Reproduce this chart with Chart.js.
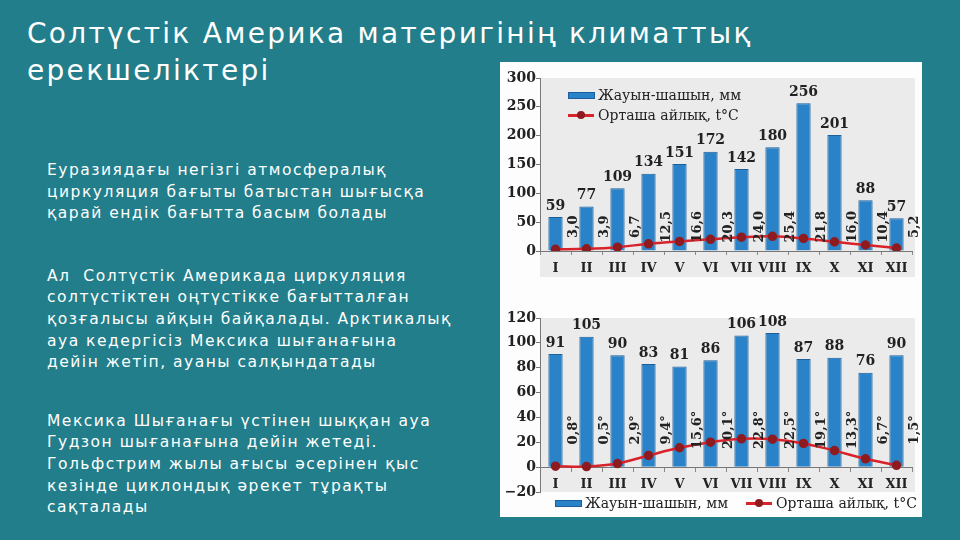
<!DOCTYPE html>
<html>
<head>
<meta charset="utf-8">
<script src="https://cdn.jsdelivr.net/npm/chart.js@4"></script>
<style>
  html, body { margin: 0; padding: 0; }
  body { width: 960px; height: 540px; background: #217e8a; position: relative; overflow: hidden; font-family: "DejaVu Sans", sans-serif; color: #fff; }
  h1 { position: absolute; left: 27px; top: 15px; margin: 0; font-weight: normal; font-size: 28px; line-height: 37px; letter-spacing: 2.3px; white-space: nowrap; }
  #text { position: absolute; left: 47px; top: 160px; width: 450px; font-size: 15.5px; line-height: 21.6px; letter-spacing: 1.5px; white-space: nowrap; }
  #text p { margin: 0; }
  #text p.p1 { margin-bottom: 41px; }
  #text p.p2 { margin-bottom: 37px; }
  #panel { position: absolute; left: 500px; top: 62px; width: 422px; height: 455px; background: #fdfdfd; }
  #panel canvas { position: absolute; left: 0; }
  .legend { position: absolute; font-family: "DejaVu Serif", serif; font-size: 14px; color: #222; white-space: nowrap; }
  .legend .row { display: flex; align-items: center; height: 20px; }
  .legend .bar { width: 27px; height: 7px; background: #2a82c8; border: 1px solid #1c5f9a; box-sizing: border-box; margin-right: 3px; }
  .legend .line { width: 26px; height: 3px; background: #d8232a; position: relative; margin-right: 4px; }
  .legend .line::after { content: ""; position: absolute; left: 9px; top: -3px; width: 8px; height: 8px; border-radius: 50%; background: #8e1b1f; }
</style>
</head>
<body>
<h1>Солтүстік Америка материгінің климаттық<br>ерекшеліктері</h1>
<div id="text">
  <p class="p1">Еуразиядағы негізгі атмосфералық<br>циркуляция бағыты батыстан шығысқа<br>қарай ендік бағытта басым болады</p>
  <p class="p2">Ал&nbsp; Солтүстік Америкада циркуляция<br>солтүстіктен оңтүстікке бағытталған<br>қозғалысы айқын байқалады. Арктикалық<br>ауа кедергісіз Мексика шығанағына<br>дейін жетіп, ауаны салқындатады</p>
  <p>Мексика Шығанағы үстінен шыққан ауа<br>Гудзон шығанағына дейін жетеді.<br>Гольфстрим жылы ағысы әсерінен қыс<br>кезінде циклондық әрекет тұрақты<br>сақталады</p>
</div>
<div id="panel">
  <canvas id="topChart" width="422" height="228" style="top:0"></canvas>
  <div class="legend" style="left:68px; top:23px;">
    <div class="row"><span class="bar"></span>Жауын-шашын, мм</div>
    <div class="row"><span class="line"></span>Орташа айлық, t°C</div>
  </div>
  <canvas id="bottomChart" width="422" height="226" style="top:228px"></canvas>
  <div class="legend" style="left:55px; top:431px;">
    <div class="row"><span class="bar"></span>Жауын-шашын, мм<span style="width:18px"></span><span class="line"></span>Орташа айлық, t°C</div>
  </div>
</div>
<script>
const months = ["I", "II", "III", "IV", "V", "VI", "VII", "VIII", "IX", "X", "XI", "XII"];

// upper station
const precipTop = [59, 77, 109, 134, 151, 172, 142, 180, 256, 201, 88, 57];
const tempTop = [3.0, 3.9, 6.7, 12.5, 16.6, 20.3, 24.0, 25.4, 21.8, 16.0, 10.4, 5.2];
const ticksTop = { min: 0, max: 300, step: 50 };

// lower station
const precipBottom = [91, 105, 90, 83, 81, 86, 106, 108, 87, 88, 76, 90];
const tempBottom = [0.8, 0.5, 2.9, 9.4, 15.6, 20.1, 22.8, 22.5, 19.1, 13.3, 6.7, 1.5];
const ticksBottom = { min: -20, max: 120, step: 20 };

const serif = '"DejaVu Serif", serif';

const plotBg = {
  id: "plotBg",
  beforeDraw(chart, args, opts) {
    const { ctx, chartArea: a } = chart;
    ctx.save();
    ctx.fillStyle = "#ebebec";
    ctx.fillRect(a.left, a.top, a.right - a.left + opts.extraRight, a.bottom - a.top + opts.extraBottom);
    ctx.restore();
  }
};

const valueLabels = {
  id: "valueLabels",
  afterDatasetsDraw(chart, args, opts) {
    const ctx = chart.ctx;
    const bars = chart.getDatasetMeta(0).data;
    const precip = chart.data.datasets[0].data;
    const temps = chart.data.datasets[1].data;
    ctx.save();
    ctx.fillStyle = "#222";
    ctx.textAlign = "center";
    ctx.font = "bold 14px " + serif;
    ctx.textBaseline = "bottom";
    bars.forEach((bar, i) => ctx.fillText(String(precip[i]), bar.x, bar.y - 4));
    const ty = chart.scales.y.getPixelForValue(opts.tempAt);
    ctx.font = "bold 13px " + serif;
    ctx.textBaseline = "middle";
    bars.forEach((bar, i) => {
      ctx.save();
      ctx.translate(bar.x + 18, ty);
      ctx.rotate(-Math.PI / 2);
      ctx.fillText(temps[i].toFixed(1).replace(".", ",") + opts.suffix, 0, 0);
      ctx.restore();
    });
    ctx.restore();
  }
};

function makeChart(id, precip, temp, t, opts) {
  return new Chart(document.getElementById(id), {
    type: "bar",
    data: {
      labels: months,
      datasets: [
        {
          label: "Жауын-шашын, мм",
          data: precip,
          backgroundColor: "#2a82c8",
          borderColor: "#1c5f9a",
          borderWidth: 1,
          barPercentage: 0.46,
          categoryPercentage: 1,
          order: 1
        },
        {
          type: "line",
          label: "Орташа айлық, t°C",
          data: temp,
          borderColor: "#d8232a",
          borderWidth: 2.5,
          tension: 0.4,
          pointRadius: 3.5,
          pointBackgroundColor: "#8e1b1f",
          pointBorderColor: "#8e1b1f",
          order: 0
        }
      ]
    },
    options: {
      responsive: false,
      animation: false,
      layout: { padding: opts.padding },
      plugins: {
        legend: { display: false },
        tooltip: { enabled: false },
        plotBg: opts.bg,
        valueLabels: { tempAt: opts.tempAt, suffix: opts.suffix }
      },
      scales: {
        x: {
          position: opts.xPos,
          afterFit: (s) => { s.height = opts.xHeight; },
          grid: { drawOnChartArea: false, tickLength: 4, color: "#888" },
          border: { color: "#777" },
          ticks: { color: "#222", font: { family: serif, size: 13, weight: "bold" }, maxRotation: 0, autoSkip: false, padding: 6 }
        },
        y: {
          min: t.min,
          max: t.max,
          afterFit: (s) => { s.width = 40; },
          grid: { drawOnChartArea: false, tickLength: 4, color: "#777" },
          border: { color: "#777" },
          ticks: {
            stepSize: t.step,
            color: "#222",
            font: { family: serif, size: 14, weight: "bold" },
            padding: 0,
            callback: (v) => (v < 0 ? "\u2212" + Math.abs(v) : v)
          }
        }
      }
    },
    plugins: [plotBg, valueLabels]
  });
}

makeChart("topChart", precipTop, tempTop, ticksTop, {
  padding: { top: 16, bottom: 13, left: 0, right: 10 },
  xPos: "bottom",
  xHeight: 26,
  bg: { extraRight: 3, extraBottom: 26 },
  tempAt: 42,
  suffix: ""
});

makeChart("bottomChart", precipBottom, tempBottom, ticksBottom, {
  padding: { top: 28, bottom: 24, left: 0, right: 10 },
  xPos: { y: 0 },
  xHeight: 0,
  bg: { extraRight: 3, extraBottom: 0 },
  tempAt: 30,
  suffix: "°"
});
</script>
</body>
</html>
